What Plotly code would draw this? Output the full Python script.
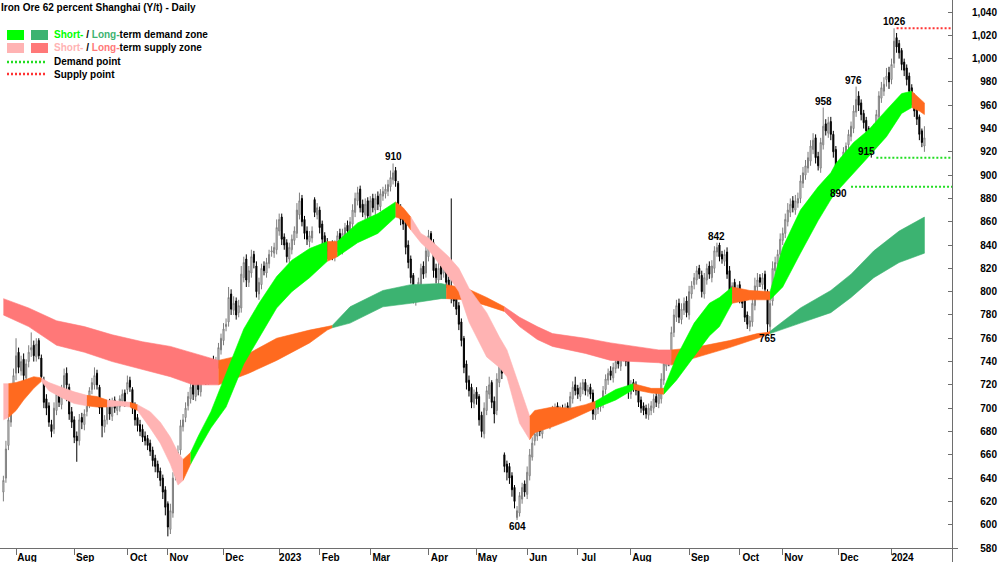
import numpy as np
import pandas as pd
import plotly.graph_objects as go

# ---------------- trading calendar (Dalian iron ore, China holidays) ----------------
holidays = ["2022-09-12", "2022-10-03", "2022-10-04", "2022-10-05", "2022-10-06", "2022-10-07",
            "2023-01-02", "2023-01-23", "2023-01-24", "2023-01-25", "2023-01-26", "2023-01-27",
            "2023-04-05", "2023-05-01", "2023-05-02", "2023-05-03", "2023-06-22", "2023-06-23",
            "2023-09-29", "2023-10-02", "2023-10-03", "2023-10-04", "2023-10-05", "2023-10-06",
            "2024-01-01"]
dates = pd.bdate_range("2022-07-25", "2024-01-19", freq="C", holidays=holidays)

# ---------------- daily OHLC (Y/t) ----------------
open_ = [628,640,668,688,702,730,748,732,742,726, 740,750,754,744,758,743,724,708,702,686,
         682,698,714,703,716,730,718,697,690,676, 672,692,686,697,704,716,720,730,718,702,
         684,690,704,693,707,698,701,706,713,716, 724,716,702,692,686,682,676,674,670,664,
         657,652,646,640,630,618,596,610,642,654, 664,684,692,702,708,720,710,724,714,726,
         735,724,728,740,734,738,750,758,770,774, 798,784,792,782,786,812,828,808,816,832,
         822,798,806,822,816,824,834,833,836,852, 864,847,842,828,836,844,850,866,880,862,
         852,843,846,879,866,870,858,848,842,832, 840,830,838,850,836,848,857,850,858,868,
         878,888,875,866,878,862,880,870,882,873, 882,884,886,890,896,904,893,872,864,860,
         840,828,814,792,798,806,822,816,830,850, 842,820,810,822,816,826,810,802,797,794,
         788,774,760,738,724,718,704,714,710,694, 678,698,712,722,706,698,722,740,660,652,
         650,642,632,606,610,622,635,626,642,658, 672,676,686,678,688,697,686,690,697,702,
         692,700,694,702,696,708,720,717,710,716, 722,714,718,713,694,699,701,704,716,724,
         732,726,734,742,736,744,750,742,712,722, 720,716,707,702,700,694,698,700,710,704,
         708,724,736,745,742,765,778,790,776,784, 792,780,798,806,810,820,814,798,810,822,
         812,820,834,840,832,826,834,818,798,808, 796,806,796,792,780,770,774,788,804,812,
         806,815,800,770,792,818,824,832,844,850, 860,868,878,870,876,880,893,900,906,912,
         922,932,916,906,926,944,936,946,935,922, 908,898,910,918,926,933,940,954,968,962,
         953,947,940,932,922,938,950,966,972,982, 988,982,996,1018,1013,1007,997,992,985,975,
         968,958,950,938,925]
high = [642,672,695,706,734,760,752,745,747,742, 754,765,758,760,760,746,727,712,705,690,
        705,716,718,720,734,735,721,701,693,680, 695,696,699,708,718,726,735,733,720,706,
        694,707,708,709,710,706,711,716,716,728, 727,718,705,695,690,686,680,677,673,667,
        660,655,649,643,633,620,618,645,660,668, 690,695,705,714,722,725,726,728,733,737,
        739,734,742,745,744,756,764,773,777,804, 802,796,795,793,822,830,832,822,836,835,
        826,812,824,826,829,836,839,842,862,867, 867,850,845,842,849,856,876,885,883,865,
        856,852,856,881,876,873,861,851,846,842, 844,844,852,854,854,859,861,864,875,885,
        890,891,879,880,881,882,884,884,886,888, 890,892,896,904,910,907,895,875,868,862,
        844,831,816,804,812,824,826,840,853,852, 845,824,826,825,829,829,813,880,800,797,
        791,777,762,741,728,721,716,718,712,697, 705,719,727,724,710,730,745,747,662,655,
        653,645,634,616,628,636,638,650,665,675, 682,687,689,694,698,700,696,702,704,705,
        702,703,704,705,714,723,727,720,722,725, 725,720,721,716,704,707,708,719,729,734,
        736,739,744,746,749,753,753,745,724,725, 723,719,710,705,703,704,706,712,713,716,
        730,742,745,748,770,785,793,794,790,795, 796,805,809,816,822,823,818,816,824,826,
        827,839,842,842,835,836,838,822,808,811, 806,809,800,795,783,779,795,812,816,815,
        816,818,802,794,826,830,836,850,855,867, 876,880,882,883,885,900,907,913,920,930,
        936,935,920,932,958,948,950,950,938,925, 910,915,924,928,939,946,960,976,972,965,
        956,950,942,935,944,956,972,980,984,992, 993,1000,1026,1022,1016,1009,1000,995,988,978,
        970,960,952,940,942]
low = [620,636,664,684,698,724,730,728,713,722, 735,744,740,740,742,724,700,694,684,675,
       678,694,701,699,712,706,690,683,670,654, 668,682,681,693,700,712,716,716,695,675,
       679,686,690,689,696,694,697,702,701,712, 714,695,685,680,676,671,668,664,659,650,
       645,640,633,622,608,590,592,606,638,650, 660,680,688,698,704,707,706,711,710,722,
       720,720,724,731,730,734,746,754,766,770, 780,780,776,778,782,808,804,804,812,820,
       795,793,802,814,812,820,830,829,832,848, 840,836,825,824,832,840,846,862,856,845,
       840,838,842,864,862,850,840,835,828,828, 827,826,834,834,832,844,848,846,854,864,
       874,868,864,862,860,858,868,866,870,869, 878,880,882,886,892,890,865,857,853,832,
       820,807,790,788,794,802,811,812,826,836, 812,807,806,810,812,803,795,790,787,780,
       767,753,730,716,710,700,700,703,685,675, 674,694,708,700,687,694,718,725,645,638,
       635,624,614,604,607,618,624,622,638,655, 668,672,676,674,684,684,682,686,693,691,
       688,691,690,694,692,704,711,708,706,712, 711,710,708,690,690,695,697,700,712,720,
       724,722,730,734,732,740,736,708,708,714, 711,701,696,694,691,690,694,696,701,700,
       704,720,732,736,738,761,774,773,772,780, 778,776,794,802,806,811,795,794,806,811,
       808,816,830,826,824,822,811,795,794,793, 792,790,786,774,768,766,770,784,800,804,
       802,798,765,766,788,814,820,828,840,846, 856,864,868,866,872,876,889,896,902,908,
       918,910,904,902,922,934,932,930,915,898, 890,894,906,914,922,929,936,950,955,947,
       940,933,925,915,918,934,946,962,968,976, 974,978,992,1005,1000,990,985,977,967,960,
       950,943,930,924,920]
close = [638,665,690,700,728,745,735,740,728,738, 748,752,745,755,745,727,705,700,688,680,
         700,712,705,715,728,720,695,688,675,672, 690,688,695,705,715,722,728,720,700,685,
         690,702,695,705,700,703,708,712,706,722, 718,700,690,685,680,675,672,668,663,655,
         650,645,638,628,615,598,612,640,655,662, 685,690,700,710,718,712,722,716,728,733,
         725,730,738,735,740,752,760,768,772,795, 785,790,780,788,815,825,810,818,830,825,
         800,808,820,818,825,832,835,838,855,862, 845,840,830,838,845,852,870,878,860,850,
         845,848,852,868,872,855,845,840,835,838, 832,840,848,838,850,855,852,860,870,880,
         885,872,868,875,865,878,872,880,875,884, 886,888,892,898,902,895,870,862,858,838,
         825,812,795,800,808,820,815,835,848,840, 818,812,820,815,822,808,800,795,792,785,
         772,758,735,722,715,705,712,708,690,680, 700,715,720,705,695,725,738,730,650,645,
         640,630,620,612,625,632,628,645,660,670, 678,683,680,690,695,688,692,698,700,695,
         698,695,700,698,710,718,715,712,718,722, 715,716,712,695,700,703,705,715,725,730,
         728,735,740,738,745,748,740,715,720,718, 715,705,700,698,695,700,702,708,705,712,
         725,738,742,740,765,780,788,778,785,790, 782,800,805,812,818,815,800,812,820,815,
         822,835,838,830,828,832,815,800,805,798, 802,795,790,778,772,775,790,805,810,808,
         812,802,772,790,820,825,832,845,850,862, 870,875,872,878,880,895,902,908,915,925,
         930,915,908,928,942,938,945,935,920,905, 900,912,920,925,935,942,955,965,960,952,
         945,938,930,925,940,952,968,975,978,985, 980,995,1015,1010,1005,995,990,982,972,965,
         955,948,935,928,932]

# ---------------- short-term zone (session number, upper, lower, state) ----------------
short_day = [0,2,5,8,12,15,18,23,28,33,37,41,46,50,53,58,62,66,69,71,74,77,82,88,95,101,108,114,121,
             128,132,140,148,155,158,161,165,168,176,180,184,191,196,199,204,208,210,217,224,230,234,
             242,249,256,261,266,273,279,283,288,295,303,308,315,322,327,329,336,342,349,355,359,362,364]
short_up = [721,721,722,724,727,726,722,718,714,711,710,707,706,705,703,697,688,675,662,656,662,676,697,730,
            768,790,813,827,837,843,843,859,867,877,872,864,850,846,830,820,803,782,761,750,718,693,698,
            701,700,703,706,716,721,717,717,744,773,790,795,804,801,800,838,870,890,902,910,928,939,956,
            970,972,966,962]
short_lo = [690,692,698,707,717,723,715,709,704,702,701,701,702,701,698,683,670,652,634,638,652,664,683,701,
            738,760,786,800,812,826,830,842,850,864,862,853,842,836,813,800,774,744,735,727,687,673,679,
            684,690,696,700,707,716,713,712,724,744,762,770,790,793,793,804,833,861,879,885,902,916,933,
            953,958,955,952]
short_state = ["S","M","M","M","M","S","S","S","S","M","M","S","S","M","S","S","S","S","S","M","D","D","D","D",
               "D","D","D","D","D","M","D","D","D","M","M","S","S","S","S","S","S","S","S","S","S","M","M",
               "M","M","M","D","D","M","M","D","D","D","D","D","M","M","D","D","D","D","D","D","D","D","D",
               "D","M","M","-"]

# ---------------- long-term zone ----------------
long_day = [0,10,21,32,43,55,66,75,85,97,108,121,128,130,137,150,161,173,175,183,191,198,204,211,217,230,
            240,259,264,273,287,298,302,303,315,327,335,344,354,364]
long_up = [794,786,775,770,763,757,753,747,741,747,760,767,770,771,787,801,806,807,806,803,795,787,778,770,
           764,760,756,750,750,752,758,764,765,766,786,801,815,835,852,864]
long_lo = [780,770,754,748,740,733,727,720,720,730,741,756,767,769,773,787,790,794,794,793,788,783,770,759,
           753,747,741,739,737,743,752,760,763,764,773,782,795,812,825,833]
long_state = ["S","S","S","S","S","S","S","S","M","M","M","M","M","D","D","D","D","D","M","M","M","S","S","S",
              "S","S","S","S","M","M","M","M","M","D","D","D","D","D","D","-"]

# ---------------- marked turning points (session numbers) ----------------
peak_days = [154, 282, 324, 337, 352]
trough_days = [203, 302, 330]
trough_above_days = [343]
demand_point_days = [330, 343]
demand_line_from = [335, 345]
supply_point_days = [352]
supply_line_from = [353]

month_labels = ["Aug", "Sep", "Oct", "Nov", "Dec", "2023", "Feb", "Mar", "Apr", "May", "Jun", "Jul",
                "Aug", "Sep", "Oct", "Nov", "Dec", "2024"]
ytick_vals = list(range(580, 1041, 20))

# ---------------- styling ----------------
FONT = "Liberation Sans, Arial, sans-serif"
C_SHORT = {"D": "#00ff00", "S": "#ffb3b3", "M": "#ff6a1f"}
C_LONG = {"D": "#3cb371", "S": "#ff7878", "M": "#ff6a1f"}
AXIS_C = "#6e6e6e"
W, H = 1000, 562
PLOT_R, PLOT_B = 952, 548
X_RANGE = [-1.34, 374.9]
Y_RANGE = [580, 1050.3]
ppu = PLOT_B / (Y_RANGE[1] - Y_RANGE[0])
Y2_RANGE = [Y_RANGE[0] - (H - PLOT_B) / ppu, Y_RANGE[1]]

n = len(close)
day = np.arange(n)
sess = pd.Series(np.arange(len(dates)), index=dates)
firsts = sess.groupby([dates.year, dates.month]).min()
tick_days = list(firsts.values[1:1 + len(month_labels)])


def zone_traces(days, up, lo, states, colors):
    out = []
    nseg = len(days) - 1
    k = 0
    while k < nseg:
        st = states[k]
        e = k
        while e + 1 < nseg and states[e + 1] == st:
            e += 1
        xs = list(days[k:e + 2]) + list(days[k:e + 2])[::-1]
        ys = list(up[k:e + 2]) + list(lo[k:e + 2])[::-1]
        out.append(go.Scatter(x=xs, y=ys, mode="lines", fill="toself", fillcolor=colors[st],
                              line=dict(color=colors[st], width=0.6), hoverinfo="skip",
                              showlegend=False))
        k = e + 1
    return out


fig = go.Figure()
for t in zone_traces(long_day, long_up, long_lo, long_state, C_LONG):
    fig.add_trace(t)
for t in zone_traces(short_day, short_up, short_lo, short_state, C_SHORT):
    fig.add_trace(t)

fig.add_trace(go.Candlestick(
    x=day, open=open_, high=high, low=low, close=close,
    increasing=dict(line=dict(color="#7d7d7d", width=1), fillcolor="#ffffff"),
    decreasing=dict(line=dict(color="#000000", width=1), fillcolor="#000000"),
    whiskerwidth=0, showlegend=False, hoverinfo="skip"))

for d0, d in zip(demand_line_from, demand_point_days):
    fig.add_trace(go.Scatter(x=[d0, X_RANGE[1]], y=[low[d], low[d]], mode="lines",
                             line=dict(color="#22dd22", width=2, dash="2px,2px"),
                             hoverinfo="skip", showlegend=False))
for d0, d in zip(supply_line_from, supply_point_days):
    fig.add_trace(go.Scatter(x=[d0, X_RANGE[1]], y=[high[d], high[d]], mode="lines",
                             line=dict(color="#ff3333", width=2, dash="2px,2px"),
                             hoverinfo="skip", showlegend=False))

# carrier for the right-hand label axis (its own full-height subplot, no overlay)
fig.add_trace(go.Scatter(x=[day[-1]], y=[close[-1]], xaxis="x", yaxis="y2", mode="markers",
                         marker=dict(opacity=0), hoverinfo="skip", showlegend=False))

ann = []
lab_font = dict(family=FONT, size=10, color="#000000")
for d in peak_days:
    ann.append(dict(x=d, y=high[d], xref="x", yref="y", text="<b>%d</b>" % high[d], showarrow=False,
                    yanchor="bottom", xanchor="center", font=lab_font, yshift=-1,
                    xshift=-3 if d == 337 else 0))
for d in trough_days:
    ann.append(dict(x=d, y=low[d], xref="x", yref="y", text="<b>%d</b>" % low[d], showarrow=False,
                    yanchor="top", xanchor="center", font=lab_font, yshift=1))
for d in trough_above_days:
    ann.append(dict(x=d, y=low[d], xref="x", yref="y", text="<b>%d</b>" % low[d], showarrow=False,
                    yanchor="bottom", xanchor="center", font=lab_font, xshift=-5, yshift=-1))


def px(x):
    return x / W


def py(y):
    return 1 - y / H


ann.append(dict(x=px(0), y=py(7), xref="paper", yref="paper", xanchor="left", yanchor="middle",
                showarrow=False, xshift=-1,
                text="<b>Iron Ore 62 percent Shanghai (Y/t) - Daily</b>", font=lab_font))
legend_rows = [
    ("<b><span style='color:#00ff00'>Short-</span> / <span style='color:#3cb371'>Long-</span>term demand zone</b>", 35),
    ("<b><span style='color:#ffb3b3'>Short-</span> / <span style='color:#ff7878'>Long-</span>term supply zone</b>", 48),
    ("<b>Demand point</b>", 62),
    ("<b>Supply point</b>", 74),
]
for txt, yy in legend_rows:
    ann.append(dict(x=px(54), y=py(yy), xref="paper", yref="paper", xanchor="left", yanchor="middle",
                    showarrow=False, xshift=-2, text=txt, font=lab_font))

shapes = [
    dict(type="rect", xref="paper", yref="paper", x0=px(7), x1=px(24), y0=py(40), y1=py(30),
         fillcolor=C_SHORT["D"], line=dict(width=0)),
    dict(type="rect", xref="paper", yref="paper", x0=px(31), x1=px(48), y0=py(40), y1=py(30),
         fillcolor=C_LONG["D"], line=dict(width=0)),
    dict(type="rect", xref="paper", yref="paper", x0=px(7), x1=px(24), y0=py(53), y1=py(43),
         fillcolor=C_SHORT["S"], line=dict(width=0)),
    dict(type="rect", xref="paper", yref="paper", x0=px(31), x1=px(48), y0=py(53), y1=py(43),
         fillcolor=C_LONG["S"], line=dict(width=0)),
    dict(type="line", xref="paper", yref="paper", x0=px(7), x1=px(45), y0=py(62), y1=py(62),
         line=dict(color="#22dd22", width=2.5, dash="2px,2px")),
    dict(type="line", xref="paper", yref="paper", x0=px(7), x1=px(45), y0=py(74), y1=py(74),
         line=dict(color="#ff3333", width=2.5, dash="2px,2px")),
    # axis-line extensions past the corner, as in the original frame
    dict(type="line", xref="paper", yref="paper", x0=px(PLOT_R + 0.5), x1=px(PLOT_R + 0.5),
         y0=py(PLOT_B), y1=0, line=dict(color=AXIS_C, width=1)),
    dict(type="line", xref="paper", yref="paper", x0=px(PLOT_R), x1=px(PLOT_R + 6),
         y0=py(PLOT_B + 0.5), y1=py(PLOT_B + 0.5), line=dict(color=AXIS_C, width=1)),
]

fig.update_layout(
    width=W, height=H, autosize=False,
    margin=dict(l=0, r=0, t=0, b=0, pad=0),
    plot_bgcolor="rgba(0,0,0,0)", paper_bgcolor="#ffffff",
    font=dict(family=FONT, size=10, color="#000000"),
    showlegend=False, hovermode=False, boxgap=0.4,
    annotations=ann, shapes=shapes,
    xaxis=dict(domain=[0, PLOT_R / W], range=X_RANGE, showgrid=False, zeroline=False,
               showline=True, linecolor=AXIS_C, linewidth=1,
               tickmode="array", tickvals=tick_days, ticktext=["<b>%s</b>" % s for s in month_labels],
               ticks="outside", ticklen=6, tickcolor=AXIS_C, tickwidth=1,
               ticklabelshift=11, ticklabelstandoff=-6,
               tickfont=dict(family=FONT, size=10, color="#000000"),
               rangeslider=dict(visible=False), fixedrange=True),
    yaxis=dict(side="right", anchor="x", domain=[(H - PLOT_B) / H, 1], range=Y_RANGE,
               showgrid=False, zeroline=False,
               showline=True, linecolor=AXIS_C, linewidth=1,
               tickmode="array", tickvals=ytick_vals, ticks="inside", ticklen=4,
               tickcolor=AXIS_C, showticklabels=False, fixedrange=True),
    yaxis2=dict(side="right", anchor="free", position=1.0, domain=[0, 1],
                range=Y2_RANGE,
                showgrid=False, zeroline=False, showline=False, ticks="",
                tickmode="array", tickvals=ytick_vals,
                ticktext=["<b>{:,}</b>".format(v) for v in ytick_vals],
                ticklabelposition="inside", tickfont=dict(family=FONT, size=10, color="#000000"),
                fixedrange=True),
)

fig.write_html("out.html", config={"displayModeBar": False},
               post_script="document.body.style.margin='0px';document.body.style.overflow='hidden';")
